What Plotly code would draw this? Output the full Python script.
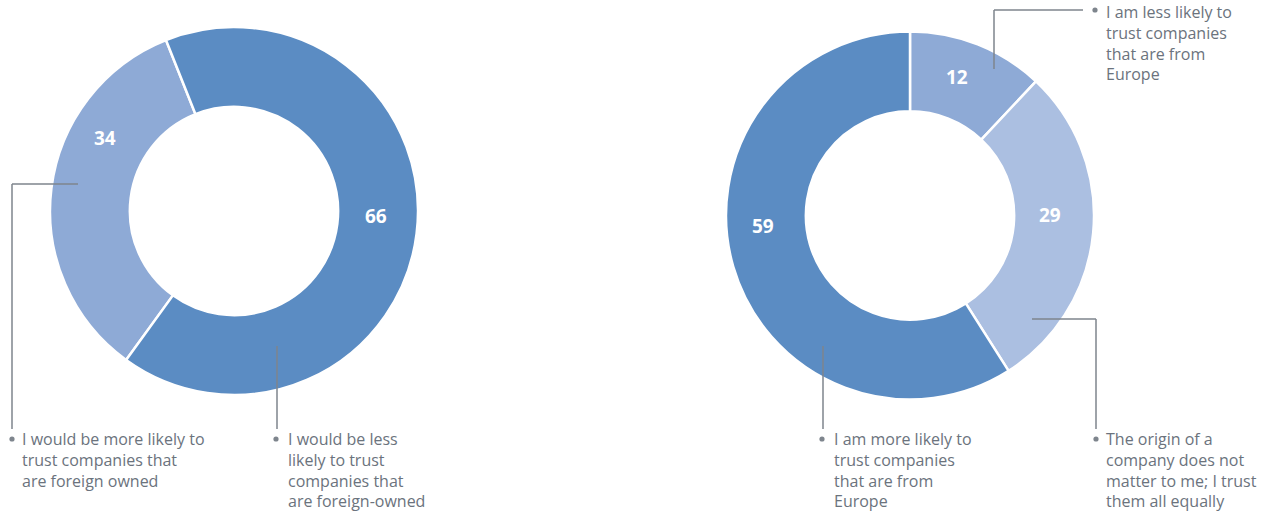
import plotly.graph_objects as go

W, H = 1280, 519

# Survey shares (percent)
left_values = [34, 66]
left_labels = [
    "I would be more likely to<br>trust companies that<br>are foreign owned",
    "I would be less<br>likely to trust<br>companies that<br>are foreign-owned",
]
right_values = [12, 29, 59]
right_labels = [
    "I am less likely to<br>trust companies<br>that are from<br>Europe",
    "The origin of a<br>company does not<br>matter to me; I trust<br>them all equally",
    "I am more likely to<br>trust companies<br>that are from<br>Europe",
]

DARK = "#5b8cc3"
MID = "#8eaad6"
LIGHT = "#abbfe1"
TEXT_GRAY = "#6b737d"
LINE_GRAY = "#7e858d"
FONT = "Open Sans"


def px(x):
    return x / W


def py(y):
    return 1 - y / H


fig = go.Figure()

fig.add_trace(go.Pie(
    values=left_values, labels=left_labels, sort=False,
    direction="counterclockwise", rotation=-144.1, hole=0.566,
    marker=dict(colors=[MID, DARK], line=dict(color="white", width=2.5)),
    textinfo="none", hoverinfo="skip",
    domain=dict(x=[px(50), px(418)], y=[py(395), py(27)]),
))

fig.add_trace(go.Pie(
    values=right_values, labels=right_labels, sort=False,
    direction="clockwise", rotation=0, hole=0.566,
    marker=dict(colors=[MID, LIGHT, DARK], line=dict(color="white", width=2.5)),
    textinfo="none", hoverinfo="skip",
    domain=dict(x=[px(726), px(1094)], y=[py(400), py(31)]),
))

annotations = []

# Value labels inside the rings
value_pos = [
    (left_values[0], 105, 138), (left_values[1], 376, 216),
    (right_values[0], 957, 77), (right_values[1], 1050, 215), (right_values[2], 763, 226),
]
for v, x, y in value_pos:
    annotations.append(dict(
        x=px(x), y=py(y), xref="paper", yref="paper", text=f"<b>{v}</b>",
        showarrow=False, xanchor="center", yanchor="middle",
        font=dict(family=FONT, size=19, color="white"),
    ))

# Category captions
caption_pos = [
    (left_labels[0], 20, 426), (left_labels[1], 286, 426),
    (right_labels[0], 1104, -1), (right_labels[1], 1104, 426), (right_labels[2], 832, 426),
]
for t, x, y in caption_pos:
    annotations.append(dict(
        x=px(x), y=py(y), xref="paper", yref="paper", text=t, align="left",
        showarrow=False, xanchor="left", yanchor="top",
        font=dict(family=FONT, size=16, color=TEXT_GRAY),
    ))

shapes = []


def seg(x0, y0, x1, y1):
    shapes.append(dict(type="line", xref="paper", yref="paper",
                       x0=px(x0), y0=py(y0), x1=px(x1), y1=py(y1),
                       line=dict(color=LINE_GRAY, width=1.5)))


def dot(x, y, r=2.6):
    shapes.append(dict(type="circle", xref="paper", yref="paper",
                       x0=px(x - r), y0=py(y + r), x1=px(x + r), y1=py(y - r),
                       fillcolor=LINE_GRAY, line=dict(width=0)))


# Leader lines
seg(78, 184, 12, 184); seg(12, 184, 12, 429); dot(12, 439)
seg(277, 346, 277, 429); dot(276, 439)
seg(994, 69, 994, 10); seg(994, 10, 1083, 10); dot(1095, 10)
seg(1032, 319, 1096, 319); seg(1096, 319, 1096, 429); dot(1096, 439)
seg(823, 346, 823, 429); dot(822, 439)

fig.update_layout(
    width=W, height=H, margin=dict(l=0, r=0, t=0, b=0),
    paper_bgcolor="white", plot_bgcolor="white", showlegend=False,
    annotations=annotations, shapes=shapes,
)

fig.write_html("out.html")
